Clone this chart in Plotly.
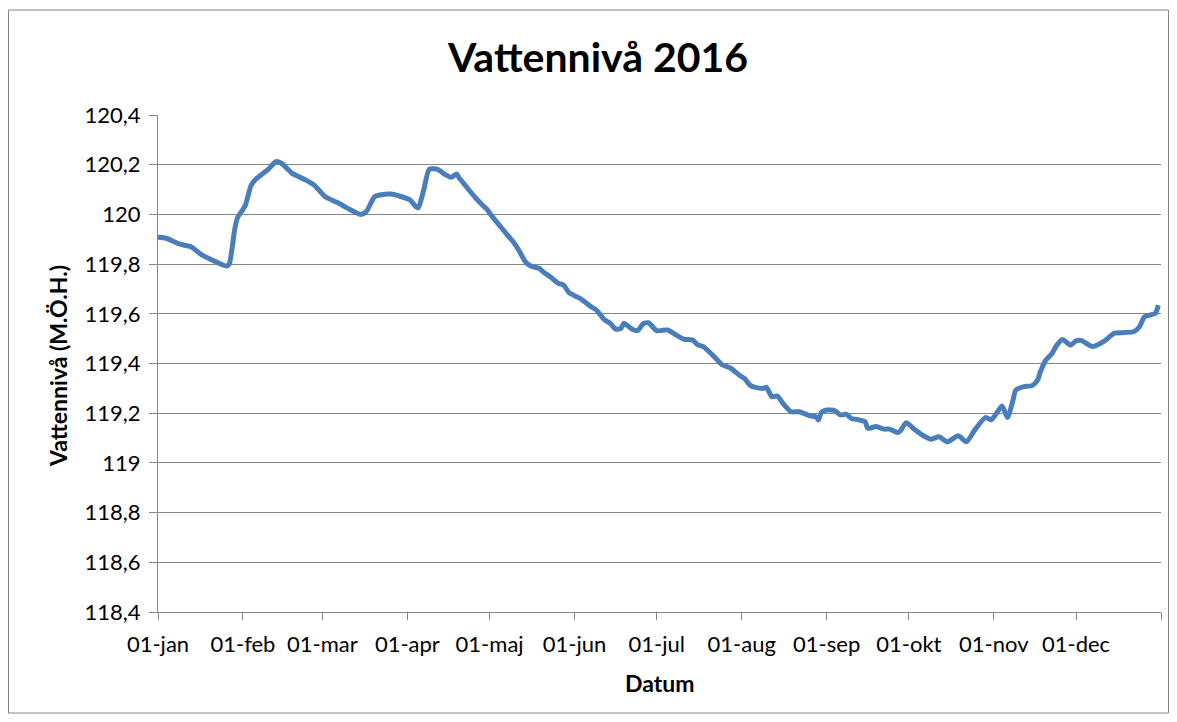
import pandas as pd
import plotly.graph_objects as go

# Day of year (0 = 1 Jan 2016) and water level (m ö.h.)
day_of_year = [0, 3, 8, 12, 16, 21, 25, 26, 27, 28, 29, 31, 32, 34, 36, 40, 43, 45, 49, 54, 57, 61,
               66, 70, 74, 76, 79, 81, 85, 88, 92, 94, 95, 97, 99, 102, 105, 107, 109, 110, 111, 114,
               116, 119, 120, 122, 126, 130, 132, 134, 136, 139, 141, 143, 146, 148, 150, 154, 158, 160, 163, 165,
               167, 169, 170, 173, 175, 177, 179, 182, 186, 189, 192, 195, 197, 199, 203, 206, 209, 212, 214, 216,
               218, 221, 222, 224, 226, 228, 231, 234, 238, 240, 241, 242, 244, 247, 249, 251, 253, 255, 258, 259,
               262, 265, 267, 270, 271, 273, 276, 278, 280, 282, 285, 288, 292, 295, 298, 302, 304, 306, 308, 310,
               312, 313, 316, 319, 321, 322, 324, 326, 328, 330, 333, 335, 337, 341, 345, 349, 352, 356, 358, 360,
               362, 364, 365]
level = [119.908, 119.904, 119.880, 119.870, 119.837, 119.810, 119.792, 119.800, 119.860, 119.940,
         119.986, 120.020, 120.040, 120.118, 120.145, 120.179, 120.212, 120.206, 120.165, 120.138,
         120.118, 120.071, 120.045, 120.020, 120.000, 120.011, 120.071, 120.078, 120.082, 120.074,
         120.058, 120.032, 120.027, 120.100, 120.182, 120.181, 120.159, 120.149, 120.163, 120.145,
         120.132, 120.091, 120.065, 120.031, 120.021, 119.991, 119.937, 119.884, 119.850, 119.810,
         119.792, 119.783, 119.765, 119.750, 119.723, 119.716, 119.685, 119.662, 119.629, 119.615,
         119.575, 119.562, 119.538, 119.542, 119.562, 119.538, 119.532, 119.559, 119.564, 119.532,
         119.535, 119.515, 119.497, 119.495, 119.475, 119.468, 119.427, 119.394, 119.381, 119.354,
         119.340, 119.313, 119.304, 119.300, 119.304, 119.266, 119.269, 119.240, 119.206, 119.206,
         119.189, 119.186, 119.173, 119.202, 119.213, 119.210, 119.193, 119.196, 119.179, 119.175,
         119.166, 119.139, 119.146, 119.136, 119.136, 119.122, 119.130, 119.162, 119.135, 119.119,
         119.105, 119.095, 119.105, 119.085, 119.109, 119.085, 119.132, 119.183, 119.173, 119.200,
         119.229, 119.183, 119.253, 119.293, 119.307, 119.311, 119.334, 119.367, 119.414, 119.437,
         119.474, 119.497, 119.474, 119.491, 119.492, 119.468, 119.488, 119.522, 119.524, 119.528,
         119.546, 119.588, 119.595, 119.602, 119.635]

month_starts = ["2016-01-01", "2016-02-01", "2016-03-01", "2016-04-01", "2016-05-01", "2016-06-01",
                "2016-07-01", "2016-08-01", "2016-09-01", "2016-10-01", "2016-11-01", "2016-12-01",
                "2017-01-01"]
month_labels = ["01-jan", "01-feb", "01-mar", "01-apr", "01-maj", "01-jun",
                "01-jul", "01-aug", "01-sep", "01-okt", "01-nov", "01-dec", ""]
y_ticks = [118.4, 118.6, 118.8, 119.0, 119.2, 119.4, 119.6, 119.8, 120.0, 120.2, 120.4]
y_labels = ["118,4", "118,6", "118,8", "119", "119,2", "119,4", "119,6", "119,8", "120", "120,2", "120,4"]

dates = pd.Timestamp("2016-01-01") + pd.to_timedelta(day_of_year, unit="D")

FONT = "Lato, Calibri, Carlito, sans-serif"
GRAY = "#868686"

# figure size (page has an 8px body margin)
W, H = 1161, 706
L, R, T, B = 150, 1153, 107, 604
pw, ph = R - L, B - T


def px(x):
    return (x - L) / pw


def py(y):
    return (B - y) / ph


fig = go.Figure()
fig.add_trace(go.Scatter(
    x=dates, y=level, mode="lines",
    line=dict(color="#4A7EBB", width=5, shape="spline", smoothing=0.6),
    showlegend=False, hoverinfo="x+y"))

fig.update_layout(
    width=W, height=H,
    margin=dict(l=L, r=W - R, t=T, b=H - B, autoexpand=False),
    paper_bgcolor="white", plot_bgcolor="white",
    font=dict(family=FONT, size=22, color="black"),
    xaxis=dict(
        type="date", range=["2016-01-01", "2017-01-01"],
        tickvals=month_starts, ticktext=month_labels,
        showgrid=False, showline=True, linecolor=GRAY, linewidth=1,
        ticks="outside", ticklen=7, tickcolor=GRAY, tickwidth=1,
        tickfont=dict(size=22), zeroline=False, ticklabelstandoff=6,
    ),
    yaxis=dict(
        range=[118.4, 120.4], tickvals=y_ticks, ticktext=y_labels,
        showgrid=True, gridcolor=GRAY, gridwidth=1,
        showline=True, linecolor=GRAY, linewidth=1,
        ticks="outside", ticklen=8, tickcolor=GRAY, tickwidth=1,
        tickfont=dict(size=22), zeroline=False, ticklabelstandoff=4,
    ),
    annotations=[
        dict(text="<b>Vattennivå 2016</b>", xref="paper", yref="paper",
             x=px(589.5), y=py(49), xanchor="center", yanchor="middle",
             showarrow=False, font=dict(size=41, family=FONT)),
        dict(text="<b>Datum</b>", xref="paper", yref="paper",
             x=px(651.5), y=py(675), xanchor="center", yanchor="middle",
             showarrow=False, font=dict(size=23, family=FONT)),
        dict(text="<b>Vattennivå (M.Ö.H.)</b>", xref="paper", yref="paper",
             x=px(50), y=py(358), xanchor="center", yanchor="middle", textangle=-90,
             showarrow=False, font=dict(size=23, family=FONT)),
    ],
    shapes=[dict(type="rect", xref="paper", yref="paper",
                 x0=px(0.5), x1=px(1160.5), y0=py(705), y1=py(2),
                 line=dict(color=GRAY, width=1), fillcolor="rgba(0,0,0,0)", layer="below")],
)

fig.write_html("out.html")
